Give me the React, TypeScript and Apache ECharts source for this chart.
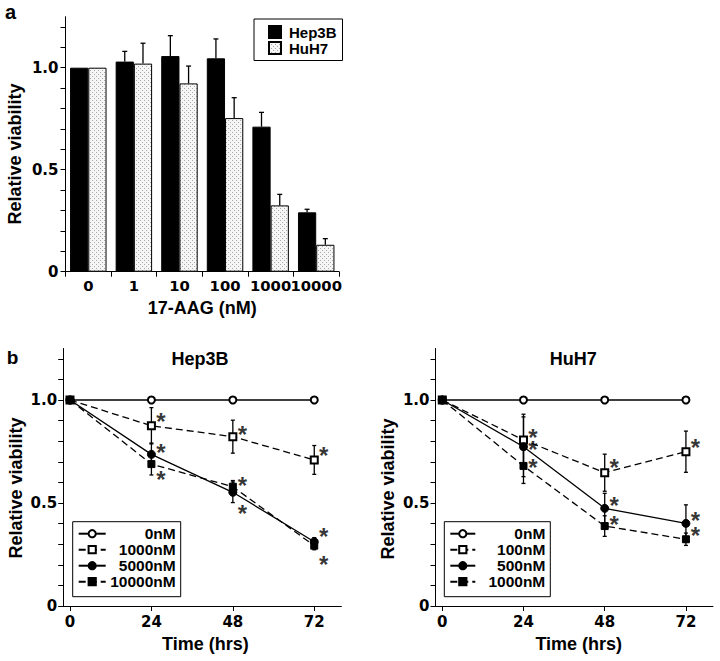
import React, { useEffect, useRef } from "react";
import * as echarts from "echarts";

// ---------- Panel a data ----------
const doseCategories = ["0", "1", "10", "100", "1000", "10000"];
const hep3bViability = [1.0, 1.03, 1.057, 1.046, 0.711, 0.291];
const hep3bError = [0, 0.05, 0.1, 0.095, 0.07, 0.015];
const huh7Viability = [1.0, 1.02, 0.923, 0.753, 0.325, 0.132];
const huh7Error = [0, 0.1, 0.085, 0.1, 0.054, 0.03];

// ---------- Panel b data ----------
const timePoints = [0, 24, 48, 72];
const yTickValues = [0, 0.1, 0.2, 0.3, 0.4, 0.5, 0.6, 0.7, 0.8, 0.9, 1.0, 1.1, 1.2];
const yLabelValues = [0, 0.5, 1.0];

const hep3bLabels = ["0nM", "1000nM", "5000nM", "10000nM"];
const hep3b0nM = [1, 1, 1, 1];
const hep3b1000nM = [1, 0.875, 0.822, 0.709];
const hep3b5000nM = [1, 0.736, 0.552, 0.312];
const hep3b10000nM = [1, 0.689, 0.579, 0.293];
const hep3b1000nMErr = [0, 0.088, 0.08, 0.07];
const hep3b5000nMErr = [0, 0.055, 0.05, 0.02];
const hep3b10000nMErr = [0, 0.053, 0.03, 0.02];
const hep3bStars = [
  [24, 0.922], [24, 0.77], [24, 0.641],
  [48, 0.859], [48, 0.612], [48, 0.476],
  [72, 0.757], [72, 0.364], [72, 0.228],
];

const huh7Labels = ["0nM", "100nM", "500nM", "1000nM"];
const huh70nM = [1, 1, 1, 1];
const huh7100nM = [1, 0.806, 0.647, 0.749];
const huh7500nM = [1, 0.773, 0.474, 0.401];
const huh71000nM = [1, 0.68, 0.388, 0.324];
const huh7100nMErr = [0, 0.125, 0.09, 0.1];
const huh7500nMErr = [0, 0.145, 0.073, 0.09];
const huh71000nMErr = [0, 0.085, 0.05, 0.03];
const huh7Stars = [
  [24, 0.846], [24, 0.786], [24, 0.7],
  [48, 0.7], [48, 0.515], [48, 0.422],
  [72, 0.797], [72, 0.442], [72, 0.369],
];

const ARIAL = "'Liberation Sans', Arial, Helvetica, sans-serif";
const NUMF = "'DejaVu Sans', 'Liberation Sans', sans-serif";

function makePattern() {
  const c = document.createElement("canvas");
  c.width = 4;
  c.height = 4;
  const ctx = c.getContext("2d")!;
  ctx.fillStyle = "#f6f6f6";
  ctx.fillRect(0, 0, 4, 4);
  ctx.fillStyle = "#a8a8a8";
  ctx.fillRect(0, 0, 1, 1);
  ctx.fillRect(2, 2, 1, 1);
  return { image: c, repeat: "repeat" } as any;
}

function errRender(mode: "up" | "both", dxFrac: number, cap: number) {
  return (params: any, api: any) => {
    const x = api.value(0);
    const y = api.value(1);
    const e = api.value(2);
    if (!e) return null;
    const bw = dxFrac !== 0 ? api.size([1, 0])[0] : 0;
    const dx = bw * dxFrac;
    const top = api.coord([x, y + e]);
    const bot = api.coord([x, mode === "up" ? y : y - e]);
    const cx = top[0] + dx;
    const st = { stroke: "#000", lineWidth: 1.3 };
    const children: any[] = [
      { type: "line", shape: { x1: cx, y1: top[1], x2: cx, y2: bot[1] }, style: st },
      { type: "line", shape: { x1: cx - cap, y1: top[1], x2: cx + cap, y2: top[1] }, style: st },
    ];
    if (mode === "both") {
      children.push({ type: "line", shape: { x1: cx - cap, y1: bot[1], x2: cx + cap, y2: bot[1] }, style: st });
    }
    return { type: "group", children };
  };
}

const yAxisCommon = (gridIndex: number) => ({
  type: "value",
  gridIndex,
  min: 0,
  max: 1.25,
  splitLine: { show: false },
  axisLine: { show: true, onZero: false, lineStyle: { color: "#000", width: 1 } },
  axisTick: { show: true, length: 5, customValues: yTickValues, lineStyle: { color: "#000" } },
  axisLabel: {
    customValues: yLabelValues,
    margin: gridIndex === 0 ? 7 : 6,
    color: "#000",
    fontFamily: NUMF,
    fontWeight: "bold",
    fontSize: 15,
    formatter: (v: number) => (v === 0 ? "0" : v.toFixed(1)),
  },
});

const timeAxis = (gridIndex: number, padLeft: number) => ({
  type: "value",
  gridIndex,
  min: -2,
  max: 80,
  splitLine: { show: false },
  axisLine: { show: true, onZero: false, lineStyle: { color: "#000", width: 1 } },
  axisTick: { show: true, length: 5, customValues: timePoints, lineStyle: { color: "#000" } },
  axisLabel: {
    customValues: timePoints,
    margin: 8,
    color: "#000",
    fontFamily: NUMF,
    fontWeight: "bold",
    fontSize: 15,
  },
  name: "Time (hrs)",
  nameLocation: "middle",
  nameGap: 29,
  nameTextStyle: {
    color: "#000",
    fontFamily: ARIAL,
    fontWeight: "bold",
    fontSize: 18,
    padding: [0, 0, 0, padLeft],
  },
});

const lineStyles = [
  { symbol: "emptyCircle", size: 7, dash: "solid" },
  { symbol: "emptyRect", size: 7, dash: [7, 4] },
  { symbol: "circle", size: 8, dash: "solid" },
  { symbol: "rect", size: 7, dash: [7, 4] },
];

function lineSeries(prefix: string, idx: number, values: number[], k: number) {
  const s = lineStyles[k];
  return {
    type: "line",
    name: prefix + " " + ["a", "b", "c", "d"][k],
    xAxisIndex: idx,
    yAxisIndex: idx,
    data: timePoints.map((t, i) => [t, values[i]]),
    symbol: s.symbol,
    symbolSize: s.size,
    showSymbol: true,
    lineStyle: { color: "#000", width: 1.3, type: s.dash as any },
    itemStyle: { color: "#000", borderColor: "#000", borderWidth: 1 },
    z: 3 + k,
  };
}

function errSeries(idx: number, values: number[], errs: number[]) {
  return {
    type: "custom",
    xAxisIndex: idx,
    yAxisIndex: idx,
    renderItem: errRender("both", 0, 2),
    data: timePoints.map((t, i) => [t, values[i], errs[i]]),
    silent: true,
    z: 2,
  };
}

function starSeries(idx: number, pts: number[][]) {
  return {
    type: "scatter",
    xAxisIndex: idx,
    yAxisIndex: idx,
    data: pts,
    symbolSize: 1,
    itemStyle: { color: "rgba(0,0,0,0)" },
    silent: true,
    label: {
      show: true,
      formatter: "*",
      position: "inside",
      offset: [9.5, 5.3],
      color: "#000",
      fontFamily: ARIAL,
      fontWeight: "bold",
      fontSize: 24,
      lineHeight: 11,
    },
    z: 10,
  };
}

function legendB(left: number, prefix: string, labels: string[], iconW: number) {
  return {
    orient: "vertical",
    left,
    top: 521.7,
    padding: [4, 5, 7, 5],
    itemGap: 0,
    itemWidth: iconW,
    itemHeight: 9,
    borderColor: "#000",
    borderWidth: 1,
    selectedMode: false,
    data: ["a", "b", "c", "d"].map((s) => prefix + " " + s),
    formatter: (name: string) => {
      const k = ["a", "b", "c", "d"].indexOf(name.split(" ")[1]);
      return "{t|" + labels[k] + "}";
    },
    textStyle: {
      color: "#000",
      fontFamily: ARIAL,
      fontWeight: "bold",
      fontSize: 15.5,
      rich: {
        t: {
          width: 65,
          align: "right",
          color: "#000",
          fontFamily: ARIAL,
          fontWeight: "bold",
          fontSize: 15.5,
          lineHeight: 15.5,
        },
      },
    },
  };
}

export default function App() {
  const ref = useRef<HTMLDivElement>(null);

  useEffect(() => {
    document.body.style.margin = "0";
    if (!ref.current) return;
    const chart = echarts.init(ref.current, null, { renderer: "svg" });
    const pattern = makePattern();

    const option: any = {
      animation: false,
      backgroundColor: "#fff",
      grid: [
        { left: 65.5, top: 16.7, width: 273.5, height: 255 },
        { left: 63.2, top: 348.5, width: 278.2, height: 257.5 },
        { left: 435.5, top: 348.5, width: 277.5, height: 257.5 },
      ],
      xAxis: [
        {
          type: "category",
          gridIndex: 0,
          data: doseCategories,
          axisLine: { show: true, lineStyle: { color: "#000", width: 1 } },
          axisTick: { show: true, length: 5, interval: 0, lineStyle: { color: "#000" } },
          axisLabel: {
            interval: 0,
            margin: 6,
            color: "#000",
            fontFamily: NUMF,
            fontWeight: "bold",
            fontSize: 14.8,
          },
          name: "17-AAG (nM)",
          nameLocation: "middle",
          nameGap: 27,
          nameTextStyle: { color: "#000", fontFamily: ARIAL, fontWeight: "bold", fontSize: 18 },
        },
        timeAxis(1, 6),
        timeAxis(2, 9),
      ],
      yAxis: [yAxisCommon(0), yAxisCommon(1), yAxisCommon(2)],
      legend: [
        {
          orient: "vertical",
          left: 254,
          top: 19,
          padding: [5.5, 6, 5, 14],
          itemGap: 1,
          itemWidth: 12,
          itemHeight: 12,
          icon: "rect",
          borderColor: "#000",
          borderWidth: 1,
          selectedMode: false,
          data: ["Hep3B", "HuH7"],
          textStyle: {
            color: "#000",
            fontFamily: ARIAL,
            fontWeight: "bold",
            fontSize: 15,
            lineHeight: 15,
            padding: [0, 0, 0, 3],
          },
        },
        legendB(72.7, "Hep3B", hep3bLabels, 27),
        legendB(444.3, "HuH7", huh7Labels, 25),
      ],
      graphic: [
        { type: "text", x: 10.5, y: 12, style: { text: "a", font: `bold 20px ${ARIAL}`, fill: "#000", align: "center", verticalAlign: "middle" } },
        { type: "text", x: 12.5, y: 357, style: { text: "b", font: `bold 19px ${ARIAL}`, fill: "#000", align: "center", verticalAlign: "middle" } },
        { type: "text", x: 200, y: 359, style: { text: "Hep3B", font: `bold 18px ${ARIAL}`, fill: "#000", align: "center", verticalAlign: "middle" } },
        { type: "text", x: 573.3, y: 359, style: { text: "HuH7", font: `bold 18px ${ARIAL}`, fill: "#000", align: "center", verticalAlign: "middle" } },
        { type: "text", x: 15, y: 154, rotation: Math.PI / 2, style: { text: "Relative viability", font: `bold 18px ${ARIAL}`, fill: "#000", align: "center", verticalAlign: "middle" } },
        { type: "text", x: 16, y: 488, rotation: Math.PI / 2, style: { text: "Relative viability", font: `bold 18px ${ARIAL}`, fill: "#000", align: "center", verticalAlign: "middle" } },
        { type: "text", x: 388.3, y: 489, rotation: Math.PI / 2, style: { text: "Relative viability", font: `bold 18px ${ARIAL}`, fill: "#000", align: "center", verticalAlign: "middle" } },
      ],
      series: [
        {
          type: "bar",
          name: "Hep3B",
          xAxisIndex: 0,
          yAxisIndex: 0,
          data: hep3bViability,
          barGap: "0%",
          barCategoryGap: "20%",
          itemStyle: { color: "#000", borderColor: "#000", borderWidth: 1 },
        },
        {
          type: "bar",
          name: "HuH7",
          xAxisIndex: 0,
          yAxisIndex: 0,
          data: huh7Viability,
          barGap: "0%",
          barCategoryGap: "20%",
          itemStyle: { color: pattern, borderColor: "#000", borderWidth: 1 },
        },
        {
          type: "custom",
          xAxisIndex: 0,
          yAxisIndex: 0,
          renderItem: errRender("up", -0.2, 2.5),
          data: hep3bViability.map((v, i) => [i, v, hep3bError[i]]),
          silent: true,
          z: 5,
        },
        {
          type: "custom",
          xAxisIndex: 0,
          yAxisIndex: 0,
          renderItem: errRender("up", 0.2, 2.5),
          data: huh7Viability.map((v, i) => [i, v, huh7Error[i]]),
          silent: true,
          z: 5,
        },
        // Hep3B time course
        errSeries(1, hep3b1000nM, hep3b1000nMErr),
        errSeries(1, hep3b5000nM, hep3b5000nMErr),
        errSeries(1, hep3b10000nM, hep3b10000nMErr),
        lineSeries("Hep3B", 1, hep3b0nM, 0),
        lineSeries("Hep3B", 1, hep3b1000nM, 1),
        lineSeries("Hep3B", 1, hep3b5000nM, 2),
        lineSeries("Hep3B", 1, hep3b10000nM, 3),
        starSeries(1, hep3bStars),
        // HuH7 time course
        errSeries(2, huh7100nM, huh7100nMErr),
        errSeries(2, huh7500nM, huh7500nMErr),
        errSeries(2, huh71000nM, huh71000nMErr),
        lineSeries("HuH7", 2, huh70nM, 0),
        lineSeries("HuH7", 2, huh7100nM, 1),
        lineSeries("HuH7", 2, huh7500nM, 2),
        lineSeries("HuH7", 2, huh71000nM, 3),
        starSeries(2, huh7Stars),
      ],
    };

    chart.setOption(option);
    return () => chart.dispose();
  }, []);

  return <div ref={ref} style={{ width: 720, height: 661, background: "#fff" }} />;
}
